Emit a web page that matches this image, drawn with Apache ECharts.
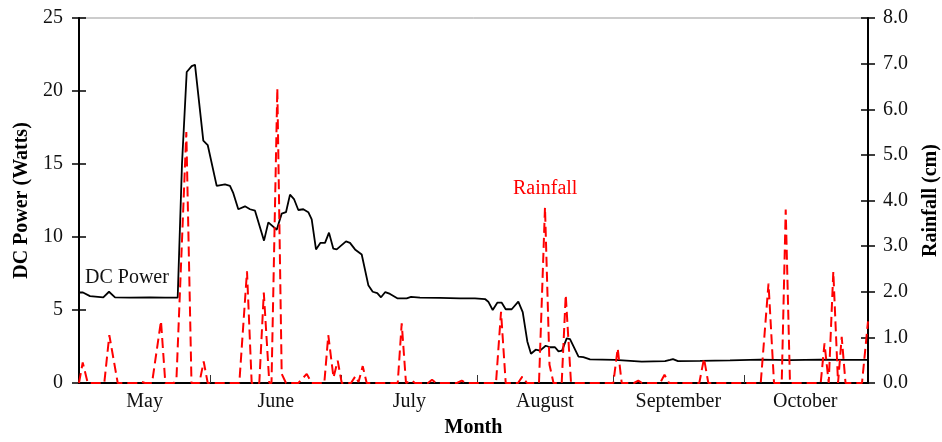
<!DOCTYPE html>
<html>
<head>
<meta charset="utf-8">
<title>DC Power and Rainfall</title>
<script src="https://cdn.jsdelivr.net/npm/echarts@6.0.0/dist/echarts.min.js"></script>
<style>
  html, body { margin: 0; padding: 0; background: #fff; }
  #chart { width: 942px; height: 442px; }
</style>
</head>
<body>
<div id="chart"></div>
<script>
// x = days counted from May 1 (May 1 = 0)
var monthNames = ['May', 'June', 'July', 'August', 'September', 'October'];
var monthStart = [31, 61, 92, 123, 153];
var monthMid = [16, 46, 76.5, 107.5, 138, 167];

// DC power (W)
var powerDay = [1.00, 1.91, 3.51, 6.55, 7.86, 9.23, 12.66, 17.23, 20.66, 23.56,
  24.54, 25.62, 26.76, 27.51, 29.41, 30.42, 32.47, 34.37, 35.51, 36.27,
  37.41, 38.94, 40.09, 41.23, 43.29, 44.27, 46.19, 47.33, 48.31, 49.23,
  50.14, 51.13, 52.27, 53.41, 54.19, 55.17, 56.20, 57.23, 58.14, 59.13,
  59.90, 62.03, 62.94, 64.09, 65.62, 67.13, 68.13, 69.18, 70.03, 71.01,
  72.09, 73.75, 75.90, 76.89, 78.94, 83.51, 88.09, 91.51, 93.80, 94.55,
  95.56, 96.61, 97.62, 98.53, 99.90, 101.41, 102.42, 103.47, 104.31, 105.39,
  106.37, 107.67, 108.66, 109.80, 110.60, 111.40, 112.47, 113.23, 115.17, 116.27,
  117.80, 123.51, 129.62, 134.94, 136.09, 136.77, 137.91, 142.94, 149.80, 156.66,
  163.51, 170.37, 176.09, 181.34];
var powerWatts = [6.2, 6.2, 5.95, 5.87, 6.25, 5.87, 5.85, 5.87, 5.85, 5.85,
  15.0, 21.3, 21.7, 21.8, 16.6, 16.3, 13.5, 13.6, 13.5, 13.0,
  11.9, 12.1, 11.9, 11.8, 9.75, 11.0, 10.5, 11.6, 11.7, 12.9,
  12.6, 11.85, 11.9, 11.7, 11.2, 9.15, 9.6, 9.6, 10.3, 9.2,
  9.15, 9.7, 9.6, 9.15, 8.8, 6.7, 6.25, 6.15, 5.87, 6.23,
  6.1, 5.8, 5.8, 5.9, 5.85, 5.83, 5.8, 5.8, 5.75, 5.57,
  5.0, 5.5, 5.5, 5.05, 5.05, 5.57, 4.85, 2.85, 2.0, 2.28,
  2.22, 2.55, 2.45, 2.45, 2.17, 2.22, 3.06, 3.0, 1.8, 1.77,
  1.62, 1.58, 1.47, 1.5, 1.58, 1.64, 1.5, 1.52, 1.55, 1.6,
  1.57, 1.6, 1.58, 1.58];

// Rainfall (cm)
var rainDay = [1.00, 1.85, 2.99, 6.78, 7.93, 9.85, 14.49, 15.17, 16.09, 17.69,
  19.74, 20.73, 22.71, 23.29, 25.53, 26.71, 28.50, 29.50, 30.42, 37.64,
  39.40, 40.47, 42.21, 43.24, 44.50, 45.00, 46.33, 47.33, 48.31, 51.13,
  53.05, 54.19, 57.07, 57.98, 59.17, 60.13, 61.05, 63.17, 64.20, 64.89,
  65.85, 66.76, 73.85, 74.76, 75.74, 77.00, 77.80, 80.77, 81.69, 82.60,
  87.40, 88.47, 89.46, 96.31, 97.46, 98.53, 101.34, 102.33, 103.40, 106.14,
  107.51, 108.54, 109.46, 111.33, 112.25, 113.46, 123.13, 124.13, 125.05, 127.86,
  128.84, 129.69, 133.80, 134.83, 135.86, 142.78, 143.86, 144.84, 156.82, 158.60,
  159.86, 161.62, 162.53, 163.51, 170.53, 171.40, 172.36, 173.41, 174.49, 175.33,
  176.20, 179.97, 181.34];
var rainCm = [0, 0.45, 0, 0, 1.05, 0, 0, 0.03, 0, 0,
  1.36, 0, 0, 0.12, 5.5, 0, 0, 0.47, 0, 0,
  2.45, 0, 0, 1.98, 0, 0, 6.46, 0.2, 0, 0,
  0.2, 0, 0, 1.05, 0.12, 0.49, 0, 0, 0.15, 0.02,
  0.37, 0, 0, 1.31, 0, 0.06, 0, 0, 0.07, 0,
  0, 0.05, 0, 0, 1.56, 0, 0, 0.14, 0, 0,
  3.85, 0.4, 0, 0, 1.93, 0, 0, 0.76, 0, 0,
  0.05, 0, 0, 0.18, 0, 0, 0.54, 0, 0, 2.18,
  0, 0, 3.8, 0, 0, 0.87, 0, 2.44, 0, 1.01,
  0, 0, 1.35];

var serif = '"Liberation Serif", "Times New Roman", serif';

function zip(xs, ys) {
  return xs.map(function (x, i) { return [x, ys[i]]; });
}

var chart = echarts.init(document.getElementById('chart'), null, { renderer: 'canvas' });

chart.setOption({
  animation: false,
  backgroundColor: '#fff',
  grid: {
    left: 79, right: 74, top: 18, bottom: 59,
    outerBoundsMode: 'none',
    show: true, borderColor: '#999', borderWidth: 1
  },
  xAxis: {
    type: 'value',
    min: 1,
    max: 181.34,
    name: 'Month',
    nameLocation: 'middle',
    nameGap: 35,
    nameTextStyle: { fontFamily: serif, fontSize: 20, fontWeight: 'bold', color: '#000' },
    axisLine: { show: true, onZero: false, lineStyle: { color: '#000', width: 2 } },
    axisTick: { show: true, inside: true, length: 8, customValues: monthStart, lineStyle: { color: '#333', width: 1 } },
    axisLabel: {
      customValues: monthMid,
      margin: 9,
      fontFamily: serif,
      fontSize: 20,
      color: '#111',
      formatter: function (v) {
        var i = monthMid.indexOf(v);
        return i >= 0 ? monthNames[i] : '';
      }
    },
    splitLine: { show: false }
  },
  yAxis: [
    {
      type: 'value',
      position: 'left',
      min: 0, max: 25, interval: 5,
      name: 'DC Power (Watts)',
      nameLocation: 'middle',
      nameRotate: 90,
      nameGap: 45,
      nameTextStyle: { fontFamily: serif, fontSize: 20, fontWeight: 'bold', color: '#000' },
      axisLine: { show: true, lineStyle: { color: '#000', width: 2 } },
      axisTick: { show: true, length: 7, lineStyle: { color: '#000', width: 1.5 } },
      axisLabel: { margin: 16, fontFamily: serif, fontSize: 20, color: '#111' },
      splitLine: { show: false }
    },
    {
      type: 'value',
      position: 'right',
      min: 0, max: 8, interval: 1,
      name: 'Rainfall (cm)',
      nameLocation: 'middle',
      nameRotate: 90,
      nameGap: 53,
      nameTextStyle: { fontFamily: serif, fontSize: 20, fontWeight: 'bold', color: '#000' },
      axisLine: { show: true, lineStyle: { color: '#000', width: 2 } },
      axisTick: { show: true, length: 7, lineStyle: { color: '#000', width: 1.5 } },
      axisLabel: {
        margin: 15, fontFamily: serif, fontSize: 20, color: '#111',
        formatter: function (v) { return v.toFixed(1); }
      },
      splitLine: { show: false }
    },
    // inner halves of the crossing ticks
    {
      type: 'value', position: 'left', min: 0, max: 25, interval: 5,
      axisLine: { show: false },
      axisTick: { show: true, inside: true, length: 7, lineStyle: { color: '#000', width: 1.5 } },
      axisLabel: { show: false },
      splitLine: { show: false }
    },
    {
      type: 'value', position: 'right', min: 0, max: 8, interval: 1,
      axisLine: { show: false },
      axisTick: { show: true, inside: true, length: 7, lineStyle: { color: '#000', width: 1.5 } },
      axisLabel: { show: false },
      splitLine: { show: false }
    }
  ],
  graphic: [
    {
      type: 'text', left: 85, top: 268,
      style: { text: 'DC Power', fill: '#111', font: '20px ' + serif }
    },
    {
      type: 'text', left: 513, top: 179,
      style: { text: 'Rainfall', fill: '#ff0000', font: '20px ' + serif }
    }
  ],
  series: [
    {
      name: 'DC Power',
      type: 'line',
      yAxisIndex: 0,
      symbol: 'none',
      z: 3,
      lineStyle: { color: '#000', width: 1.8 },
      data: zip(powerDay, powerWatts)
    },
    {
      name: 'Rainfall',
      type: 'line',
      yAxisIndex: 1,
      symbol: 'none',
      z: 4,
      lineStyle: { color: '#ff0000', width: 2, type: [10, 5] },
      data: zip(rainDay, rainCm)
    }
  ]
});
</script>
</body>
</html>
